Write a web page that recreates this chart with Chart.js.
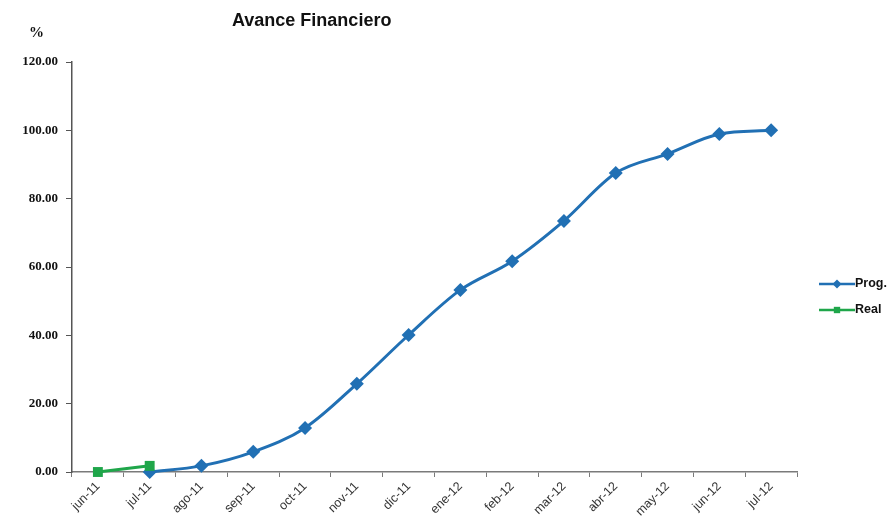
<!DOCTYPE html>
<html>
<head>
<meta charset="utf-8">
<script src="https://cdn.jsdelivr.net/npm/chart.js@4.4.0/dist/chart.umd.min.js"></script>
<style>
  html, body { margin: 0; padding: 0; background: #fff; }
  #wrap { width: 891px; height: 531px; position: relative; }
</style>
</head>
<body>
<div id="wrap"><canvas id="chart" width="891" height="531"></canvas></div>
<script>
// months on the x axis
var meses = ['jun-11', 'jul-11', 'ago-11', 'sep-11', 'oct-11', 'nov-11', 'dic-11',
             'ene-12', 'feb-12', 'mar-12', 'abr-12', 'may-12', 'jun-12', 'jul-12'];
// programmed progress (%)
var prog = [null, 0.0, 1.8, 5.9, 12.9, 25.8, 40.1, 53.3, 61.7, 73.5, 87.5, 93.1, 98.9, 100.0];
// real progress (%)
var real = [0.0, 1.8, null, null, null, null, null, null, null, null, null, null, null, null];

var azul = '#2170b4';
var verde = '#1fa64a';

// title, "%" label and the legend on the right
var extras = {
  id: 'extras',
  afterDraw: function(chart) {
    var ctx = chart.ctx;
    ctx.save();
    ctx.fillStyle = '#111';
    ctx.textBaseline = 'middle';
    ctx.font = 'bold 18px "Liberation Sans", Arial, sans-serif';
    ctx.textAlign = 'left';
    ctx.fillText('Avance Financiero', 232, 21);
    ctx.font = 'bold 15px "Liberation Serif", serif';
    ctx.fillText('%', 29, 33);

    var items = [
      { text: 'Prog.', color: azul, style: 'rectRot', y: 284 },
      { text: 'Real', color: verde, style: 'rect', y: 310 }
    ];
    items.forEach(function(it) {
      ctx.strokeStyle = it.color;
      ctx.lineWidth = 2.5;
      ctx.beginPath();
      ctx.moveTo(819, it.y);
      ctx.lineTo(855, it.y);
      ctx.stroke();
      ctx.fillStyle = it.color;
      Chart.helpers.drawPoint(ctx, { pointStyle: it.style, radius: 4.5, borderWidth: 0 }, 837, it.y);
      ctx.fillStyle = '#111';
      ctx.font = 'bold 12.5px "Liberation Sans", Arial, sans-serif';
      ctx.fillText(it.text, 855, it.y);
    });
    ctx.restore();
  }
};

new Chart(document.getElementById('chart'), {
  type: 'line',
  data: {
    labels: meses,
    datasets: [
      {
        label: 'Prog.',
        data: prog,
        order: 1,
        borderColor: azul,
        backgroundColor: azul,
        borderWidth: 3,
        pointStyle: 'rectRot',
        pointRadius: 7,
        pointBorderWidth: 0,
        cubicInterpolationMode: 'monotone',
        clip: false
      },
      {
        label: 'Real',
        data: real,
        order: 0,
        borderColor: verde,
        backgroundColor: verde,
        borderWidth: 3,
        pointStyle: 'rect',
        pointRadius: 7,
        pointBorderWidth: 0,
        clip: false
      }
    ]
  },
  options: {
    responsive: false,
    animation: false,
    layout: { padding: { left: 0, top: 62, right: 94, bottom: 0 } },
    plugins: {
      legend: { display: false },
      tooltip: { enabled: false },
      title: { display: false }
    },
    scales: {
      x: {
        offset: true,
        afterFit: function(s) { s.height = 59; },
        grid: {
          offset: true,
          drawOnChartArea: false,
          color: '#7a7a7a',
          tickLength: 5
        },
        border: { color: '#7a7a7a', width: 1.5 },
        ticks: {
          minRotation: 45,
          maxRotation: 45,
          color: '#333',
          padding: 2,
          font: { family: '"Liberation Sans", Arial, sans-serif', size: 12.5 }
        }
      },
      y: {
        min: 0,
        max: 120,
        afterFit: function(s) { s.width = 72; },
        grid: {
          drawOnChartArea: false,
          color: '#555',
          tickLength: 6
        },
        border: { color: '#555', width: 1.5 },
        ticks: {
          stepSize: 20,
          color: '#111',
          padding: 8,
          font: { family: '"Liberation Serif", serif', size: 13, weight: 'bold' },
          callback: function(v) { return v.toFixed(2); }
        }
      }
    }
  },
  plugins: [extras]
});
</script>
</body>
</html>
